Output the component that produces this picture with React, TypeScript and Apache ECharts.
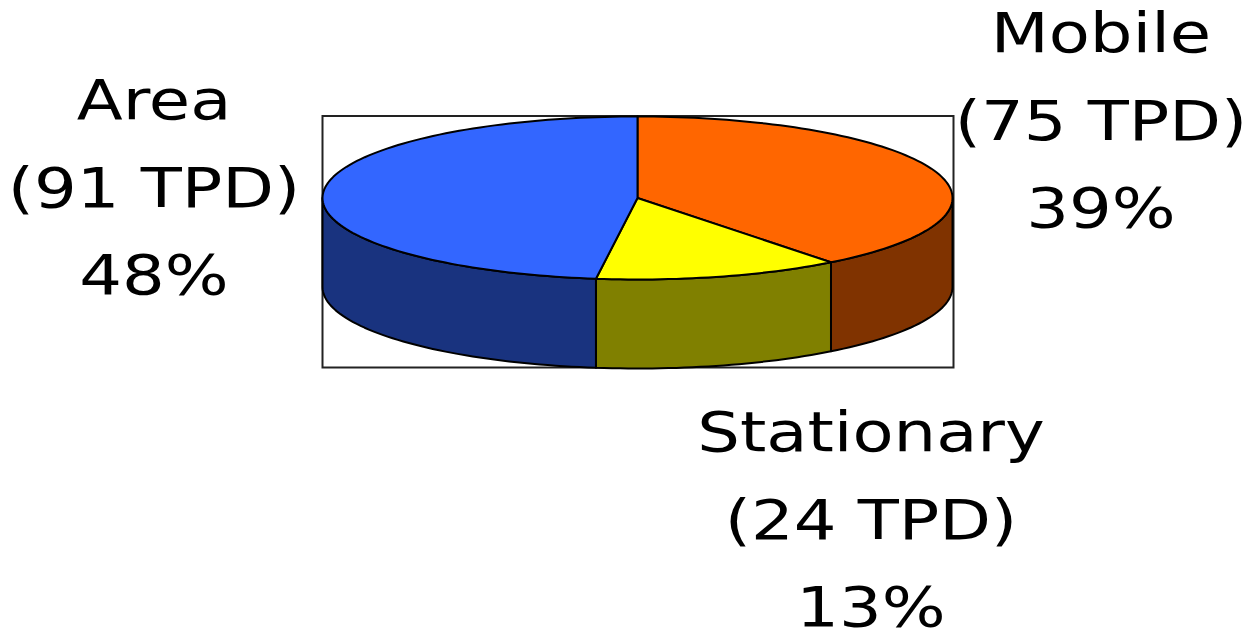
import React, { useEffect, useRef } from "react";
import * as echarts from "echarts";

const names = ["Mobile", "Stationary", "Area"];
const tpd = [75, 24, 91];
const percents = [39, 13, 48];
const topColors = ["#FF6600", "#FFFF00", "#3366FF"];
const sideColors = ["#803300", "#808000", "#19337F"];

const W = 1244;
const H = 629;
const cx = 637.5;
const cy = 198;
const rx = 315;
const ry = 81.5;
const depth = 89;
const labelX = [1101, 871, 154];
const labelY = [33, 432, 100];
const lineGap = 87.5;
const FONT = "DejaVu Sans";
const textScale = 1.2;

const total = tpd.reduce((a, b) => a + b, 0);
const pt = (deg: number, dy = 0): number[] => {
  const t = (deg * Math.PI) / 180;
  return [cx + rx * Math.sin(t), cy - ry * Math.cos(t) + dy];
};
const arc = (a: number, b: number, dy = 0): number[][] => {
  const n = Math.max(2, Math.ceil(Math.abs(b - a) / 1.5));
  const out: number[][] = [];
  for (let i = 0; i <= n; i++) out.push(pt(a + ((b - a) * i) / n, dy));
  return out;
};

const renderItem = (params: any, api: any) => {
  const i = params.dataIndex;
  const value = api.value(0);
  const before = tpd.slice(0, i).reduce((a, b) => a + b, 0);
  const a0 = (before / total) * 360;
  const a1 = ((before + value) / total) * 360;
  const children: any[] = [];
  const s0 = Math.max(a0, 90);
  const s1 = Math.min(a1, 270);
  if (s1 > s0) {
    children.push({
      type: "polygon",
      shape: { points: [...arc(s0, s1), ...arc(s1, s0, depth)] },
      style: { fill: sideColors[i], stroke: "#000", lineWidth: 2, lineJoin: "round" },
    });
  }
  children.push({
    type: "polygon",
    shape: { points: [[cx, cy], ...arc(a0, a1)] },
    style: { fill: topColors[i], stroke: "#000", lineWidth: 2, lineJoin: "round" },
  });
  return { type: "group", children };
};

const labelGraphics = names.flatMap((name, i) =>
  [name, `(${tpd[i]} TPD)`, `${percents[i]}%`].map((line, j) => ({
    type: "text",
    x: labelX[i],
    y: labelY[i] + j * lineGap,
    scaleX: textScale,
    style: {
      text: line,
      fontFamily: FONT,
      fontSize: 56,
      fill: "#000",
      align: "center",
      verticalAlign: "middle",
    },
  }))
);

export default function App() {
  const ref = useRef<HTMLDivElement>(null);
  useEffect(() => {
    document.body.style.margin = "0";
    const chart = echarts.init(ref.current!, undefined, { renderer: "svg" });
    chart.setOption({
      animation: false,
      backgroundColor: "#fff",
      graphic: [
        {
          type: "rect",
          z: 0,
          shape: { x: 322.5, y: 116, width: 631, height: 251.5 },
          style: { fill: "#fff", stroke: "#222", lineWidth: 2 },
        },
        ...labelGraphics,
      ],
      series: [
        {
          type: "custom",
          coordinateSystem: "none",
          z: 5,
          renderItem,
          data: tpd.map((v) => [v]),
        },
      ],
    });
    return () => chart.dispose();
  }, []);
  return <div ref={ref} style={{ width: W, height: H }} />;
}
